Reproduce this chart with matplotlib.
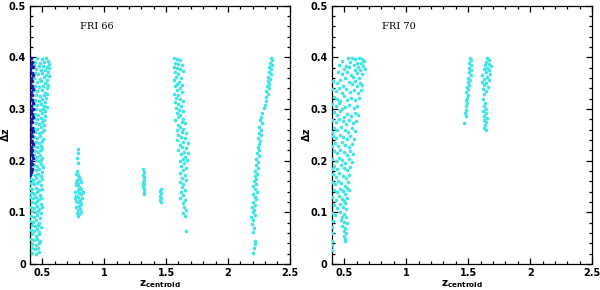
import matplotlib
matplotlib.use("Agg")
import matplotlib.pyplot as plt
from matplotlib.ticker import MultipleLocator

# ---- data (x = z_centroid, y = delta z) ----

# FRI 66, dark points hugging the left axis
fri66_dark = [(0.405, 0.398), (0.418, 0.392), (0.41, 0.386), (0.425, 0.381), (0.404, 0.376),
              (0.415, 0.370), (0.428, 0.365), (0.408, 0.360), (0.42, 0.354), (0.403, 0.349),
              (0.414, 0.344), (0.426, 0.339), (0.409, 0.333), (0.42, 0.328), (0.404, 0.322),
              (0.417, 0.317), (0.428, 0.312), (0.41, 0.306), (0.422, 0.301), (0.405, 0.296),
              (0.416, 0.290), (0.427, 0.285), (0.409, 0.280), (0.42, 0.274), (0.403, 0.269),
              (0.414, 0.264), (0.425, 0.258), (0.408, 0.253), (0.419, 0.248), (0.404, 0.242),
              (0.415, 0.237), (0.426, 0.232), (0.41, 0.226), (0.42, 0.221), (0.405, 0.216),
              (0.416, 0.210), (0.424, 0.205), (0.408, 0.200), (0.418, 0.194), (0.404, 0.189),
              (0.414, 0.184), (0.409, 0.178), (0.403, 0.172)]

# FRI 66, cyan strip near z = 0.45
fri66_low = [(0.46, 0.398), (0.50, 0.396), (0.53, 0.399), (0.545, 0.394), (0.44, 0.392),
             (0.48, 0.389), (0.515, 0.391), (0.55, 0.387), (0.43, 0.385), (0.47, 0.383),
             (0.505, 0.384), (0.535, 0.381), (0.555, 0.379), (0.45, 0.377), (0.49, 0.375),
             (0.52, 0.376), (0.545, 0.372), (0.44, 0.369), (0.465, 0.367), (0.50, 0.370),
             (0.53, 0.366), (0.55, 0.364), (0.43, 0.361), (0.48, 0.359), (0.51, 0.362),
             (0.54, 0.357), (0.455, 0.352), (0.49, 0.354), (0.525, 0.350), (0.545, 0.347),
             (0.44, 0.344), (0.47, 0.342), (0.505, 0.345), (0.535, 0.340), (0.43, 0.336),
             (0.46, 0.334), (0.495, 0.337), (0.52, 0.332), (0.54, 0.330), (0.45, 0.327),
             (0.48, 0.325), (0.51, 0.328), (0.53, 0.322), (0.44, 0.318), (0.47, 0.316),
             (0.50, 0.319), (0.525, 0.314), (0.43, 0.309), (0.46, 0.307), (0.49, 0.310),
             (0.515, 0.305), (0.535, 0.303), (0.45, 0.300), (0.48, 0.298), (0.505, 0.301),
             (0.525, 0.296), (0.44, 0.291), (0.465, 0.289), (0.495, 0.292), (0.52, 0.287),
             (0.43, 0.282), (0.455, 0.280), (0.485, 0.283), (0.51, 0.278), (0.445, 0.273),
             (0.475, 0.271), (0.50, 0.274), (0.515, 0.269), (0.43, 0.264), (0.46, 0.262),
             (0.49, 0.265), (0.51, 0.260), (0.44, 0.255), (0.47, 0.253), (0.495, 0.256),
             (0.43, 0.246), (0.455, 0.244), (0.48, 0.247), (0.505, 0.242), (0.445, 0.237),
             (0.47, 0.235), (0.495, 0.238), (0.43, 0.228), (0.46, 0.226), (0.485, 0.229),
             (0.50, 0.224), (0.44, 0.219), (0.465, 0.217), (0.49, 0.220), (0.43, 0.210),
             (0.455, 0.208), (0.48, 0.211), (0.50, 0.206), (0.445, 0.201), (0.47, 0.199),
             (0.49, 0.202), (0.43, 0.192), (0.46, 0.190), (0.485, 0.193), (0.505, 0.188),
             (0.42, 0.183), (0.45, 0.181), (0.475, 0.184), (0.495, 0.179), (0.41, 0.174),
             (0.44, 0.172), (0.465, 0.175), (0.49, 0.170), (0.405, 0.165), (0.425, 0.163),
             (0.45, 0.166), (0.475, 0.161), (0.50, 0.164), (0.41, 0.156), (0.435, 0.154),
             (0.46, 0.157), (0.485, 0.152), (0.40, 0.147), (0.42, 0.145), (0.445, 0.148),
             (0.47, 0.143), (0.495, 0.146), (0.41, 0.138), (0.435, 0.136), (0.455, 0.139),
             (0.48, 0.134), (0.40, 0.129), (0.425, 0.127), (0.45, 0.130), (0.47, 0.125),
             (0.49, 0.128), (0.415, 0.120), (0.44, 0.118), (0.46, 0.121), (0.485, 0.116),
             (0.405, 0.111), (0.43, 0.109), (0.455, 0.112), (0.475, 0.107), (0.495, 0.110),
             (0.42, 0.102), (0.445, 0.100), (0.465, 0.103), (0.49, 0.098), (0.41, 0.093),
             (0.435, 0.091), (0.46, 0.094), (0.48, 0.089), (0.40, 0.084), (0.425, 0.082),
             (0.45, 0.085), (0.47, 0.080), (0.415, 0.075), (0.44, 0.073), (0.465, 0.076),
             (0.485, 0.071), (0.41, 0.066), (0.435, 0.064), (0.455, 0.067), (0.475, 0.062),
             (0.42, 0.057), (0.445, 0.055), (0.47, 0.058), (0.41, 0.048), (0.435, 0.046),
             (0.46, 0.049), (0.48, 0.044), (0.42, 0.039), (0.45, 0.037), (0.47, 0.040),
             (0.415, 0.030), (0.44, 0.028), (0.465, 0.031), (0.42, 0.022), (0.45, 0.020),
             (0.47, 0.023)]

# FRI 66, group near z = 0.8
fri66_08 = [(0.785, 0.222), (0.79, 0.214), (0.782, 0.205), (0.788, 0.196), (0.78, 0.180),
            (0.775, 0.175), (0.79, 0.172), (0.795, 0.168), (0.805, 0.165), (0.78, 0.162),
            (0.81, 0.158), (0.792, 0.155), (0.77, 0.152), (0.80, 0.149), (0.815, 0.146),
            (0.785, 0.143), (0.765, 0.140), (0.798, 0.138), (0.81, 0.135), (0.775, 0.132),
            (0.79, 0.129), (0.82, 0.127), (0.802, 0.124), (0.77, 0.122), (0.785, 0.119),
            (0.812, 0.116), (0.795, 0.113), (0.775, 0.110), (0.805, 0.107), (0.788, 0.104),
            (0.815, 0.101), (0.78, 0.099), (0.80, 0.096), (0.79, 0.093), (0.765, 0.128),
            (0.825, 0.140), (0.772, 0.158), (0.808, 0.120)]

# FRI 66, small groups near z = 1.3 and 1.45
fri66_13 = [(1.315, 0.183), (1.32, 0.178), (1.31, 0.172), (1.325, 0.168), (1.318, 0.163),
            (1.31, 0.158), (1.322, 0.154), (1.315, 0.149), (1.325, 0.145), (1.318, 0.140),
            (1.322, 0.136), (1.312, 0.152)]
fri66_145 = [(1.455, 0.146), (1.45, 0.141), (1.46, 0.137), (1.452, 0.132), (1.458, 0.128),
             (1.45, 0.124), (1.455, 0.119)]

# FRI 66, strip near z = 1.6
fri66_16 = [(1.565, 0.399), (1.585, 0.397), (1.61, 0.395), (1.575, 0.390), (1.60, 0.388),
            (1.625, 0.386), (1.56, 0.382), (1.59, 0.379), (1.615, 0.377), (1.635, 0.373),
            (1.57, 0.371), (1.60, 0.368), (1.58, 0.362), (1.62, 0.360), (1.56, 0.357),
            (1.605, 0.353), (1.59, 0.349), (1.63, 0.347), (1.57, 0.344), (1.61, 0.340),
            (1.585, 0.336), (1.625, 0.333), (1.565, 0.330), (1.60, 0.327), (1.58, 0.322),
            (1.615, 0.319), (1.635, 0.316), (1.57, 0.314), (1.595, 0.310), (1.62, 0.306),
            (1.58, 0.302), (1.605, 0.298), (1.64, 0.296), (1.585, 0.292), (1.615, 0.289),
            (1.60, 0.284), (1.635, 0.281), (1.575, 0.279), (1.625, 0.275), (1.65, 0.272),
            (1.595, 0.270), (1.61, 0.265), (1.64, 0.262), (1.585, 0.259), (1.63, 0.255),
            (1.66, 0.253), (1.60, 0.250), (1.62, 0.246), (1.65, 0.243), (1.59, 0.240),
            (1.64, 0.236), (1.675, 0.234), (1.61, 0.231), (1.63, 0.227), (1.66, 0.224),
            (1.60, 0.221), (1.645, 0.217), (1.68, 0.215), (1.62, 0.212), (1.655, 0.208),
            (1.635, 0.204), (1.67, 0.201), (1.61, 0.199), (1.645, 0.195), (1.62, 0.190),
            (1.66, 0.186), (1.635, 0.181), (1.615, 0.176), (1.65, 0.172), (1.63, 0.167),
            (1.665, 0.162), (1.61, 0.158), (1.64, 0.154), (1.625, 0.149), (1.655, 0.144),
            (1.62, 0.139), (1.64, 0.133), (1.61, 0.128), (1.655, 0.124), (1.635, 0.118),
            (1.645, 0.111), (1.66, 0.105), (1.64, 0.099), (1.65, 0.093), (1.66, 0.064)]

# FRI 66, strip near z = 2.2
fri66_22 = [(2.345, 0.399), (2.355, 0.395), (2.34, 0.390), (2.36, 0.386), (2.335, 0.381),
            (2.35, 0.377), (2.33, 0.372), (2.345, 0.368), (2.325, 0.363), (2.34, 0.358),
            (2.32, 0.354), (2.335, 0.349), (2.315, 0.344), (2.33, 0.340), (2.31, 0.334),
            (2.32, 0.329), (2.305, 0.323), (2.31, 0.315), (2.30, 0.308), (2.295, 0.302),
            (2.275, 0.292), (2.27, 0.284), (2.26, 0.278), (2.275, 0.272), (2.255, 0.266),
            (2.265, 0.260), (2.25, 0.254), (2.27, 0.249), (2.245, 0.243), (2.26, 0.238),
            (2.25, 0.232), (2.24, 0.226), (2.255, 0.221), (2.235, 0.215), (2.25, 0.209),
            (2.23, 0.203), (2.245, 0.198), (2.225, 0.192), (2.24, 0.186), (2.22, 0.180),
            (2.235, 0.175), (2.215, 0.170), (2.23, 0.165), (2.21, 0.160), (2.225, 0.155),
            (2.205, 0.150), (2.22, 0.145), (2.235, 0.140), (2.20, 0.135), (2.215, 0.130),
            (2.225, 0.125), (2.205, 0.120), (2.22, 0.115), (2.195, 0.110), (2.21, 0.105),
            (2.20, 0.100), (2.215, 0.095), (2.19, 0.090), (2.205, 0.085), (2.195, 0.078),
            (2.21, 0.070), (2.20, 0.062), (2.215, 0.045), (2.22, 0.038), (2.21, 0.030),
            (2.20, 0.022)]

# FRI 70, broad band near z = 0.5
fri70_low = [(0.53, 0.399), (0.56, 0.398), (0.59, 0.396), (0.62, 0.399), (0.645, 0.397),
             (0.66, 0.393), (0.48, 0.394), (0.55, 0.391), (0.605, 0.390), (0.635, 0.389),
             (0.46, 0.385), (0.515, 0.384), (0.54, 0.382), (0.575, 0.386), (0.61, 0.381),
             (0.65, 0.383), (0.665, 0.378), (0.50, 0.377), (0.585, 0.376), (0.63, 0.375),
             (0.45, 0.371), (0.48, 0.368), (0.525, 0.372), (0.555, 0.366), (0.60, 0.369),
             (0.64, 0.367), (0.57, 0.362), (0.62, 0.360), (0.505, 0.361), (0.41, 0.354),
             (0.44, 0.350), (0.47, 0.356), (0.535, 0.353), (0.565, 0.348), (0.59, 0.355),
             (0.625, 0.351), (0.645, 0.346), (0.49, 0.345), (0.605, 0.344), (0.405, 0.338),
             (0.43, 0.335), (0.46, 0.341), (0.515, 0.339), (0.545, 0.333), (0.575, 0.337),
             (0.61, 0.332), (0.635, 0.336), (0.485, 0.331), (0.415, 0.324), (0.445, 0.320),
             (0.50, 0.326), (0.525, 0.318), (0.555, 0.322), (0.59, 0.317), (0.62, 0.321),
             (0.47, 0.316), (0.40, 0.309), (0.43, 0.305), (0.455, 0.311), (0.51, 0.304),
             (0.54, 0.308), (0.575, 0.302), (0.60, 0.306), (0.485, 0.301), (0.415, 0.294),
             (0.44, 0.289), (0.47, 0.296), (0.525, 0.291), (0.555, 0.287), (0.585, 0.293),
             (0.50, 0.285), (0.61, 0.288), (0.405, 0.279), (0.43, 0.274), (0.46, 0.281),
             (0.49, 0.276), (0.515, 0.271), (0.54, 0.278), (0.57, 0.273), (0.595, 0.277),
             (0.42, 0.264), (0.445, 0.259), (0.475, 0.266), (0.505, 0.260), (0.53, 0.256),
             (0.56, 0.263), (0.585, 0.258), (0.40, 0.255), (0.41, 0.248), (0.435, 0.243),
             (0.465, 0.250), (0.49, 0.245), (0.52, 0.241), (0.545, 0.247), (0.575, 0.242),
             (0.425, 0.234), (0.45, 0.228), (0.48, 0.236), (0.505, 0.230), (0.535, 0.226),
             (0.56, 0.232), (0.40, 0.229), (0.415, 0.219), (0.44, 0.214), (0.47, 0.221),
             (0.495, 0.216), (0.52, 0.211), (0.55, 0.218), (0.57, 0.213), (0.405, 0.204),
             (0.43, 0.199), (0.455, 0.206), (0.485, 0.201), (0.51, 0.196), (0.54, 0.203),
             (0.56, 0.198), (0.42, 0.189), (0.445, 0.184), (0.475, 0.191), (0.50, 0.186),
             (0.525, 0.181), (0.55, 0.188), (0.40, 0.183), (0.41, 0.174), (0.435, 0.169),
             (0.46, 0.176), (0.49, 0.171), (0.515, 0.166), (0.54, 0.173), (0.40, 0.159),
             (0.425, 0.154), (0.45, 0.161), (0.475, 0.156), (0.505, 0.151), (0.53, 0.158),
             (0.52, 0.148), (0.415, 0.144), (0.44, 0.139), (0.465, 0.146), (0.49, 0.141),
             (0.51, 0.136), (0.535, 0.143), (0.405, 0.129), (0.43, 0.124), (0.455, 0.131),
             (0.48, 0.126), (0.50, 0.121), (0.525, 0.128), (0.415, 0.114), (0.44, 0.109),
             (0.465, 0.116), (0.49, 0.111), (0.515, 0.106), (0.505, 0.118), (0.40, 0.099),
             (0.425, 0.094), (0.47, 0.101), (0.495, 0.096), (0.515, 0.091), (0.48, 0.090),
             (0.41, 0.084), (0.475, 0.086), (0.50, 0.081), (0.52, 0.079), (0.485, 0.074),
             (0.51, 0.069), (0.495, 0.064), (0.515, 0.059), (0.50, 0.054), (0.51, 0.049),
             (0.505, 0.045), (0.40, 0.072), (0.405, 0.060), (0.40, 0.045), (0.405, 0.037),
             (0.40, 0.027)]

# FRI 70, two thin groups near z = 1.5 and 1.65
fri70_15 = [(1.515, 0.399), (1.525, 0.395), (1.51, 0.390), (1.52, 0.385), (1.505, 0.380),
            (1.525, 0.376), (1.51, 0.371), (1.52, 0.366), (1.50, 0.361), (1.515, 0.357),
            (1.495, 0.352), (1.505, 0.347), (1.49, 0.343), (1.50, 0.338), (1.485, 0.333),
            (1.495, 0.328), (1.49, 0.322), (1.48, 0.317), (1.49, 0.311), (1.48, 0.305),
            (1.485, 0.299), (1.475, 0.293), (1.48, 0.287), (1.47, 0.272)]
fri70_165 = [(1.655, 0.399), (1.67, 0.395), (1.645, 0.392), (1.665, 0.388), (1.635, 0.386),
             (1.68, 0.383), (1.65, 0.380), (1.625, 0.377), (1.665, 0.375), (1.64, 0.371),
             (1.675, 0.368), (1.615, 0.366), (1.655, 0.363), (1.63, 0.359), (1.67, 0.356),
             (1.61, 0.353), (1.645, 0.350), (1.625, 0.346), (1.66, 0.343), (1.62, 0.339),
             (1.64, 0.335), (1.63, 0.330), (1.62, 0.320), (1.635, 0.312), (1.625, 0.306),
             (1.645, 0.301), (1.62, 0.297), (1.64, 0.292), (1.63, 0.287), (1.65, 0.283),
             (1.625, 0.279), (1.645, 0.274), (1.635, 0.269), (1.625, 0.264), (1.64, 0.260)]

panel_titles = ["FRI 66", "FRI 70"]
x_ticks = [0.5, 1, 1.5, 2, 2.5]
x_tick_labels = ["0.5", "1", "1.5", "2", "2.5"]
y_ticks = [0, 0.1, 0.2, 0.3, 0.4, 0.5]
y_tick_labels = ["0", "0.1", "0.2", "0.3", "0.4", "0.5"]

CYAN = "#44e4e4"
DARK = "#1c1ca8"

fig = plt.figure(figsize=(6.0, 2.9), dpi=100)
ax1 = fig.add_axes([0.05, 0.09, 0.433, 0.89])
ax2 = fig.add_axes([0.553, 0.09, 0.434, 0.89])


def draw(ax, groups, title):
    for pts, col in groups:
        xs, ys = zip(*pts)
        ax.scatter(xs, ys, s=7, c=col, linewidths=0, zorder=3)
    ax.set_xlim(0.4, 2.5)
    ax.set_ylim(0, 0.5)
    ax.set_xticks(x_ticks)
    ax.set_xticklabels(x_tick_labels)
    ax.set_yticks(y_ticks)
    ax.set_yticklabels(y_tick_labels)
    ax.xaxis.set_minor_locator(MultipleLocator(0.1))
    ax.yaxis.set_minor_locator(MultipleLocator(0.02))
    ax.tick_params(which="both", direction="in", top=True, right=True,
                   labelsize=7, width=0.9, pad=3)
    ax.tick_params(which="major", length=4)
    ax.tick_params(which="minor", length=2)
    for lab in ax.get_xticklabels() + ax.get_yticklabels():
        lab.set_fontweight("bold")
    for sp in ax.spines.values():
        sp.set_linewidth(0.9)
    ax.text(0.805, 0.455, title, fontsize=7, family="DejaVu Serif")
    ax.set_xlabel(r"$\mathbf{z_{centroid}}$", fontsize=7.5, labelpad=0)
    ax.set_ylabel(r"$\mathbf{\Delta z}$", fontsize=7)
    ax.yaxis.set_label_coords(-0.075, 0.5)


draw(ax1, [(fri66_low, CYAN), (fri66_dark, DARK), (fri66_08, CYAN), (fri66_13, CYAN),
           (fri66_145, CYAN), (fri66_16, CYAN), (fri66_22, CYAN)], panel_titles[0])
draw(ax2, [(fri70_low, CYAN), (fri70_15, CYAN), (fri70_165, CYAN)], panel_titles[1])

fig.savefig("out.png", dpi=100)
